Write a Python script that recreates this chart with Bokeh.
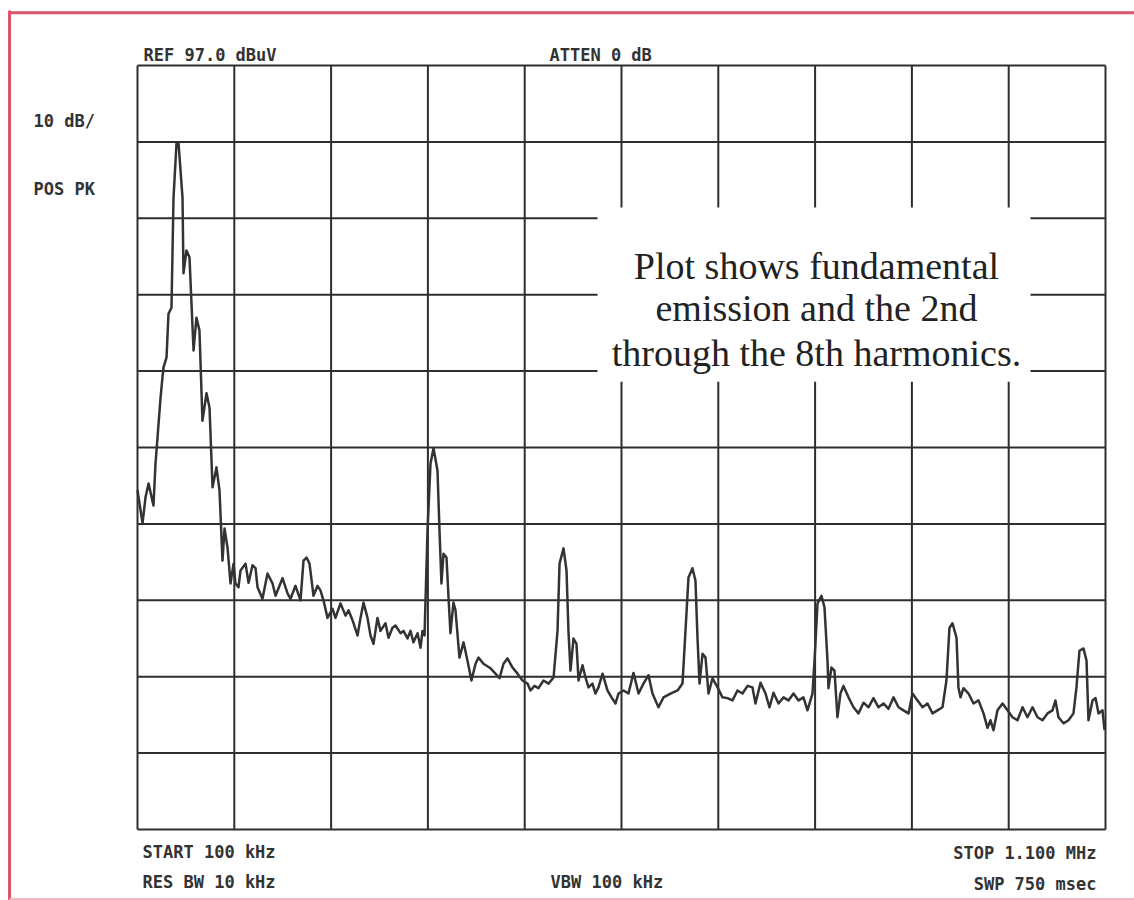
from bokeh.plotting import figure
from bokeh.models import Range1d
from bokeh.core.properties import value
from bokeh.embed import file_html
from bokeh.resources import INLINE

# ---- data (spectrum analyzer trace) ----
freq_khz = [
    100, 105.2, 108.3, 111.4, 116.5, 118.6, 123.8, 125.8, 126.9, 130.0,
    132.0, 135.1, 137.2, 140.3, 142.4, 146.5, 147.5, 150.6, 153.7, 157.9,
    160.9, 164.0, 167.1, 171.3, 174.4, 177.5, 181.6, 184.7, 187.8, 189.9,
    193.0, 196.1, 199.2,
    201.2, 204.3, 206.4, 211.6, 214.7, 218.8, 221.9, 224.0, 229.1, 234.3,
    239.5, 242.6, 249.8, 255.0, 258.1, 263.2, 268.4, 271.5, 274.6, 277.7,
    281.8, 286.0, 289.0, 292.1, 296.3, 301.4, 304.5, 309.7, 314.9, 318.0,
    322.1, 327.3, 330.4, 333.5, 337.6, 340.7, 343.8, 347.9, 351.0, 356.2,
    359.3, 363.4, 366.5, 371.7, 374.8, 378.9, 382.0, 385.1, 389.3, 392.4,
    394.4, 396.5,
    399.6, 402.7, 405.8, 409.9, 412.0, 414.0, 416.1, 419.2, 421.3, 423.3,
    426.4, 428.5, 432.6, 436.8, 440.9, 445.0, 449.2, 452.3, 457.4, 464.7,
    469.8, 474.0, 478.1, 482.2, 487.4, 492.6, 497.7, 502.9, 506.0, 510.1,
    514.3, 519.4, 524.6, 529.8,
    533.9, 536.0, 540.1, 543.2, 545.2, 547.3, 550.4, 553.5, 555.6, 559.7,
    562.8, 565.9, 570.0, 573.1, 576.2, 580.4, 585.5, 589.7, 593.8, 596.9,
    602.1, 607.2, 612.4, 617.6, 622.7, 627.9, 632.0, 638.2, 643.4, 650.6,
    657.9, 663.0,
    666.1, 669.2, 673.3, 676.4, 678.5, 680.6, 683.7, 686.8, 689.9, 694.0,
    699.2, 704.3, 709.5, 714.7, 719.8, 725.0, 730.2, 735.3, 738.4, 743.6,
    748.8, 752.9, 757.0, 762.2, 767.4, 772.5, 777.7, 782.9, 788.0, 792.1,
    797.3,
    799.4, 802.5, 806.6, 809.7, 812.8, 813.8, 816.9, 820.0, 823.1, 826.2,
    829.3, 834.5, 839.7, 844.8, 850.0, 855.2, 860.3, 865.5, 870.7, 875.8,
    881.0, 886.2, 891.3, 896.5, 900.6, 905.8, 911.0, 916.1, 921.3, 926.4,
    931.6,
    935.7, 938.8, 941.9, 946.1, 948.1, 950.2, 953.3, 958.5, 963.6, 968.8,
    974.0, 978.1, 981.2, 984.3, 988.4, 993.6, 998.8, 1003.9, 1009.1, 1014.3,
    1019.4, 1024.6, 1029.8, 1034.9, 1040.1, 1045.2, 1048.3, 1051.4, 1056.6, 1061.8,
    1066.9, 1070.0, 1073.1, 1077.3, 1080.4, 1082.4, 1086.6, 1089.7, 1092.8, 1096.9,
    1099.0,
]
level_dbuv = [
    41.4, 37.1, 40.5, 42.3, 39.4, 44.9, 53.5, 56.2, 57.5, 58.8,
    64.5, 65.3, 79.7, 86.8, 86.8, 79.7, 69.8, 72.8, 71.9, 59.7,
    64.0, 62.3, 50.5, 54.1, 52.2, 41.8, 44.4, 41.4, 32.2, 36.4,
    33.9, 29.2, 31.8,
    29.2, 28.7, 30.9, 31.8, 29.3, 31.6, 31.2, 28.7, 27.2, 30.5,
    29.2, 27.6, 29.9, 27.9, 27.2, 28.9, 27.0, 32.2, 32.6, 31.8,
    27.6, 28.9, 28.3, 27.0, 24.7, 25.9, 24.7, 26.6, 25.0, 25.7,
    24.4, 22.4, 24.7, 26.7, 24.7, 22.4, 21.3, 24.7, 23.0, 24.0,
    22.1, 23.4, 23.7, 22.7, 23.0, 22.0, 23.0, 21.5, 22.7, 20.8,
    23.0, 22.4,
    36.1, 44.9, 46.9, 44.0, 36.1, 29.2, 33.1, 32.6, 27.4, 22.7,
    26.7, 25.7, 19.5, 21.5, 19.1, 16.5, 18.7, 19.5, 18.7, 18.1,
    17.4, 16.8, 18.7, 19.4, 18.2, 17.4, 16.5, 16.1, 15.2, 15.8,
    15.5, 16.5, 16.1, 16.9,
    23.0, 31.8, 33.8, 30.9, 23.0, 17.8, 22.0, 21.3, 16.5, 18.5,
    16.9, 15.6, 16.1, 14.8, 15.6, 17.4, 15.2, 14.3, 13.5, 14.8,
    15.2, 14.8, 17.5, 14.8, 16.1, 17.2, 14.8, 13.0, 14.3, 14.8,
    15.2, 16.1,
    23.0, 30.0, 31.2, 29.6, 22.1, 16.1, 20.0, 19.5, 14.8, 16.8,
    15.6, 14.3, 14.2, 13.9, 15.2, 14.8, 15.8, 15.6, 13.5, 16.2,
    14.8, 13.0, 14.9, 13.5, 14.3, 13.9, 14.8, 13.9, 14.3, 12.6,
    14.8,
    19.1, 26.6, 27.6, 26.1, 19.1, 15.5, 18.2, 17.8, 11.7, 14.8,
    15.8, 14.3, 13.0, 12.2, 13.6, 13.0, 14.2, 13.0, 13.5, 12.8,
    14.3, 13.0, 12.6, 12.2, 14.8, 13.9, 13.0, 13.5, 12.2, 12.6,
    13.0,
    16.5, 23.4, 24.0, 22.1, 15.6, 14.3, 15.5, 14.8, 13.5, 13.9,
    12.2, 10.3, 11.3, 10.0, 12.6, 13.5, 12.6, 11.7, 11.3, 13.0,
    11.7, 13.0, 11.7, 11.3, 12.2, 12.6, 13.9, 11.7, 10.9, 11.3,
    12.2, 15.6, 20.4, 20.7, 19.1, 11.3, 13.9, 14.2, 12.2, 12.6,
    10.0,
]

freq_ticks = [100, 200, 300, 400, 500, 600, 700, 800, 900, 1000, 1100]
level_ticks = [-3, 7, 17, 27, 37, 47, 57, 67, 77, 87, 97]

header_labels = ["REF 97.0 dBuV", "ATTEN 0 dB"]
side_labels = ["10 dB/", "POS PK"]
footer_left = ["START 100 kHz", "RES BW 10 kHz"]
footer_mid = ["VBW 100 kHz"]
footer_right = ["STOP 1.100 MHz", "SWP 750 msec"]
note_lines = ["Plot shows fundamental", "emission and the 2nd", "through the 8th harmonics."]

# ---- figure: whole canvas is the data frame ----
W, H = 1134, 900
p = figure(width=W, height=H, output_backend="svg", toolbar_location=None,
           x_range=Range1d(-41.53, 1129.96), y_range=Range1d(-12.29, 105.51),
           x_axis_location=None, y_axis_location=None, min_border=0)
p.outline_line_color = None
p.background_fill_color = "white"
p.border_fill_color = "white"
for g in p.grid:
    g.visible = False

GRID = "#2e2e2e"
MONO = value("DejaVu Sans Mono")
LBL = dict(text_font=MONO, text_font_size="17px", text_font_style="bold",
           text_baseline="alphabetic", text_color="#333333")

# grid
p.segment(x0=freq_ticks, x1=freq_ticks, y0=[level_ticks[0]] * len(freq_ticks),
          y1=[level_ticks[-1]] * len(freq_ticks), line_color=GRID, line_width=2)
p.segment(x0=[freq_ticks[0]] * len(level_ticks), x1=[freq_ticks[-1]] * len(level_ticks),
          y0=level_ticks, y1=level_ticks, line_color=GRID, line_width=2)

# white box behind the note
p.quad(left=[575.2], right=[1022.5], bottom=[55.6], top=[78.4],
       fill_color="white", line_color=None)

# note text
p.text(x=[801.4] * 3, y=[70.8, 65.2, 59.4], text=note_lines,
       text_font=value("Liberation Serif"), text_font_size="38px",
       text_align="center", text_baseline="alphabetic", text_color="#222222")

# trace
p.line(freq_khz, level_dbuv, line_color="#333333", line_width=2.5, line_join="round")

# instrument annotations
p.text(x=[106.2, 525.6], y=[98.4, 98.4], text=header_labels, text_align="left", **LBL)
p.text(x=[-7.4, -7.4], y=[89.7, 80.8], text=side_labels, text_align="left", **LBL)
p.text(x=[105.2, 105.2], y=[-5.9, -9.9], text=footer_left, text_align="left", **LBL)
p.text(x=[526.7], y=[-9.9], text=footer_mid, text_align="left", **LBL)
p.text(x=[1090.7, 1090.7], y=[-6.1, -10.1], text=footer_right, text_align="right", **LBL)

# red page border (scan frame)
RED = "#d9546a"
p.segment(x0=[-32.4], x1=[1129.96], y0=[103.9], y1=[103.9], line_color=RED, line_width=3)
p.segment(x0=[-32.2], x1=[-32.2], y0=[104.2], y1=[-12.29], line_color=RED, line_width=3)
p.segment(x0=[-32.2], x1=[1129.96], y0=[-12.1], y1=[-12.1], line_color="#f0b8c0", line_width=2)

open("out.html", "w").write(file_html(p, INLINE))
